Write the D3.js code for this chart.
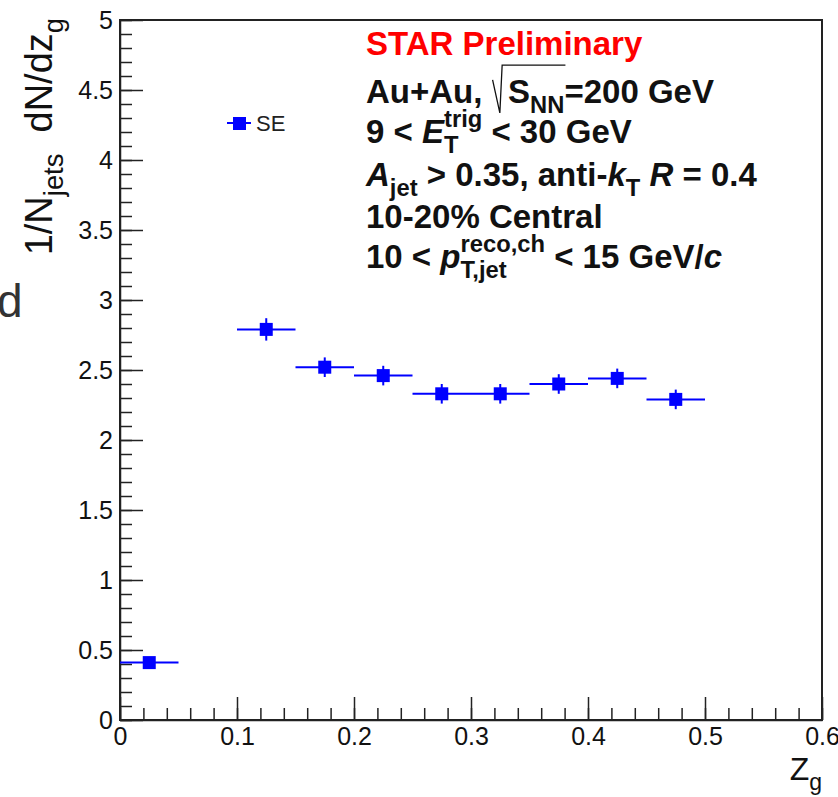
<!DOCTYPE html>
<html>
<head>
<meta charset="utf-8">
<script src="https://cdn.jsdelivr.net/npm/d3@7"></script>
<style>
  body { margin: 0; background: #fff; }
  svg { display: block; }
  text { font-family: "Liberation Sans", Arial, sans-serif; white-space: pre; }
</style>
</head>
<body>
<script>
// data
const zgCenters = [0.025, 0.125, 0.175, 0.225, 0.275, 0.325, 0.375, 0.425, 0.475]
const seValues = [0.41, 2.79, 2.52, 2.46, 2.33, 2.33, 2.40, 2.44, 2.29]
const seErrors = [0.03, 0.08, 0.07, 0.07, 0.07, 0.07, 0.07, 0.07, 0.07]
const binHalf = 0.025
const yMajor = [0, 0.5, 1, 1.5, 2, 2.5, 3, 3.5, 4, 4.5, 5]
const xMajor = [0, 0.1, 0.2, 0.3, 0.4, 0.5, 0.6]

let width = 838
let height = 797
let margin = {left: 120, right: 16, top: 20, bottom: 77}

let svg = d3.select('body').append('svg')
  .attr('width', width)
  .attr('height', height)

//scales
let xScale = d3.scaleLinear().domain([0, 0.6]).range([margin.left, width - margin.right])
let yScale = d3.scaleLinear().domain([0, 5]).range([height - margin.bottom, margin.top])

let x0 = xScale(0), y0 = yScale(0)

// frame
svg.append('rect')
  .attr('x', xScale(0)).attr('y', yScale(5))
  .attr('width', xScale(0.6) - xScale(0))
  .attr('height', yScale(0) - yScale(5))
  .attr('fill', 'none').attr('stroke', '#222').attr('stroke-width', 2)

// y axis, ticks drawn inward
let yMinor = d3.range(0, 5.001, 0.1).map(d => +d.toFixed(1))
svg.append('g')
  .attr('transform', `translate(${x0},0)`)
  .call(d3.axisLeft(yScale).tickValues(yMinor).tickSizeInner(-12).tickSizeOuter(0).tickFormat(''))
  .call(g => g.select('.domain').remove())
let yAx = svg.append('g')
  .attr('transform', `translate(${x0},0)`)
  .call(d3.axisLeft(yScale).tickValues(yMajor).tickSizeInner(-23).tickSizeOuter(0)
    .tickPadding(7).tickFormat(d => String(+d.toFixed(1))))
yAx.selectAll('text').attr('font-size', 25).attr('fill', '#111').attr('font-family', null)

// x axis
let xMinor = d3.range(0, 0.6001, 0.02).map(d => +d.toFixed(2))
svg.append('g')
  .attr('transform', `translate(0,${y0})`)
  .call(d3.axisBottom(xScale).tickValues(xMinor).tickSizeInner(-12).tickSizeOuter(0).tickFormat(''))
  .call(g => g.select('.domain').remove())
let xAx = svg.append('g')
  .attr('transform', `translate(0,${y0})`)
  .call(d3.axisBottom(xScale).tickValues(xMajor).tickSizeInner(-23).tickSizeOuter(0)
    .tickPadding(7).tickFormat(d => String(+d.toFixed(1))))
xAx.selectAll('text').attr('font-size', 25).attr('fill', '#111').attr('font-family', null)
svg.selectAll('.tick line, .domain').attr('stroke', '#222').attr('stroke-width', 1.5)

// rich text: items laid out one after the other
function rich(parent, x, y, items, size, opts = {}) {
  let g = parent.append('g')
  let cx = x
  let put = (t, px, py, fs, italic) => {
    let el = g.append('text')
      .attr('x', px).attr('y', py)
      .attr('font-size', fs)
      .attr('font-weight', opts.bold ? 'bold' : 'normal')
      .attr('font-style', italic ? 'italic' : 'normal')
      .attr('fill', opts.color || '#111')
      .text(t)
    return el.node().getComputedTextLength()
  }
  let small = size * (opts.subScale || 0.72)
  let radX = null
  items.forEach(it => {
    if (it.rad === 'open') {
      radX = cx
      cx += size * 0.5
    } else if (it.rad === 'close') {
      g.append('path')
        .attr('d', `M${radX + 1},${y - size * 0.7} L${radX + size * 0.25},${y + size * 0.3} L${radX + size * 0.32},${y - size * 1.15} L${cx + 1},${y - size * 1.15}`)
        .attr('fill', 'none').attr('stroke', '#111').attr('stroke-width', 1.3)
    } else if (it.sub !== undefined || it.sup !== undefined) {
      let w1 = it.sup ? put(it.sup, cx, y - size * 0.5, small, false) : 0
      let w2 = it.sub ? put(it.sub, cx, y + size * 0.3, small, false) : 0
      cx += Math.max(w1, w2)
    } else {
      cx += put(it.t, cx, y, size, it.it)
    }
  })
  return {g, w: cx - x}
}

// y title, rotated and ending at the top of the axis
let yTitle = svg.append('g').attr('transform', 'translate(52,18) rotate(-90)')
let yt = rich(yTitle, 0, 0, [
  {t: '1/N'}, {sub: 'jets'}, {t: '  dN/dz'}, {sub: 'g'}
], 38, {subScale: 0.72})
yt.g.attr('transform', `translate(${-yt.w},0)`)

// x title
let xt = rich(svg, 0, 780, [{t: 'Z'}, {sub: 'g'}], 32)
xt.g.attr('transform', `translate(${822 - xt.w},0)`)

// stray character cut off at the left edge
svg.append('text').attr('x', -3).attr('y', 317).attr('font-size', 46)
  .attr('fill', '#333').text('d')

// text block
let tx = 366
let fs = 33
rich(svg, tx, 55, [{t: 'STAR Preliminary'}], fs, {bold: true, color: '#ff0000'})
rich(svg, tx, 103, [{t: 'Au+Au, '}, {rad: 'open'}, {t: 'S'}, {sub: 'NN'}, {rad: 'close'}, {t: '=200 GeV'}], fs, {bold: true})
rich(svg, tx, 143, [{t: '9 < '}, {t: 'E', it: true}, {sup: 'trig', sub: 'T'}, {t: ' < 30 GeV'}], fs, {bold: true})
rich(svg, tx, 186, [{t: 'A', it: true}, {sub: 'jet'}, {t: ' > 0.35, anti-'}, {t: 'k', it: true}, {sub: 'T'}, {t: ' '}, {t: 'R', it: true}, {t: ' = 0.4'}], fs, {bold: true})
rich(svg, tx, 228, [{t: '10-20% Central'}], fs, {bold: true})
rich(svg, tx, 268, [{t: '10 < '}, {t: 'p', it: true}, {sup: 'reco,ch', sub: 'T,jet'}, {t: ' < 15 GeV/'}, {t: 'c', it: true}], fs, {bold: true})

// data points
let blue = '#0000ff'
let data = zgCenters.map((z, i) => ({z, v: seValues[i], e: seErrors[i]}))
let pts = svg.append('g')
pts.selectAll('line.h').data(data).enter().append('line')
  .attr('x1', d => xScale(d.z - binHalf)).attr('x2', d => xScale(d.z + binHalf))
  .attr('y1', d => yScale(d.v)).attr('y2', d => yScale(d.v))
  .attr('stroke', blue).attr('stroke-width', 2)
pts.selectAll('line.v').data(data).enter().append('line')
  .attr('x1', d => xScale(d.z)).attr('x2', d => xScale(d.z))
  .attr('y1', d => yScale(d.v - d.e)).attr('y2', d => yScale(d.v + d.e))
  .attr('stroke', blue).attr('stroke-width', 2)
pts.selectAll('rect').data(data).enter().append('rect')
  .attr('x', d => xScale(d.z) - 6.5).attr('y', d => yScale(d.v) - 6.5)
  .attr('width', 13).attr('height', 13)
  .attr('fill', blue)

// legend
let leg = svg.append('g')
leg.append('line').attr('x1', 227).attr('x2', 251).attr('y1', 123).attr('y2', 123)
  .attr('stroke', blue).attr('stroke-width', 2)
leg.append('rect').attr('x', 233).attr('y', 117).attr('width', 13).attr('height', 13).attr('fill', blue)
leg.append('text').attr('x', 256).attr('y', 131).attr('font-size', 22).attr('fill', '#222').text('SE')
</script>
</body>
</html>
